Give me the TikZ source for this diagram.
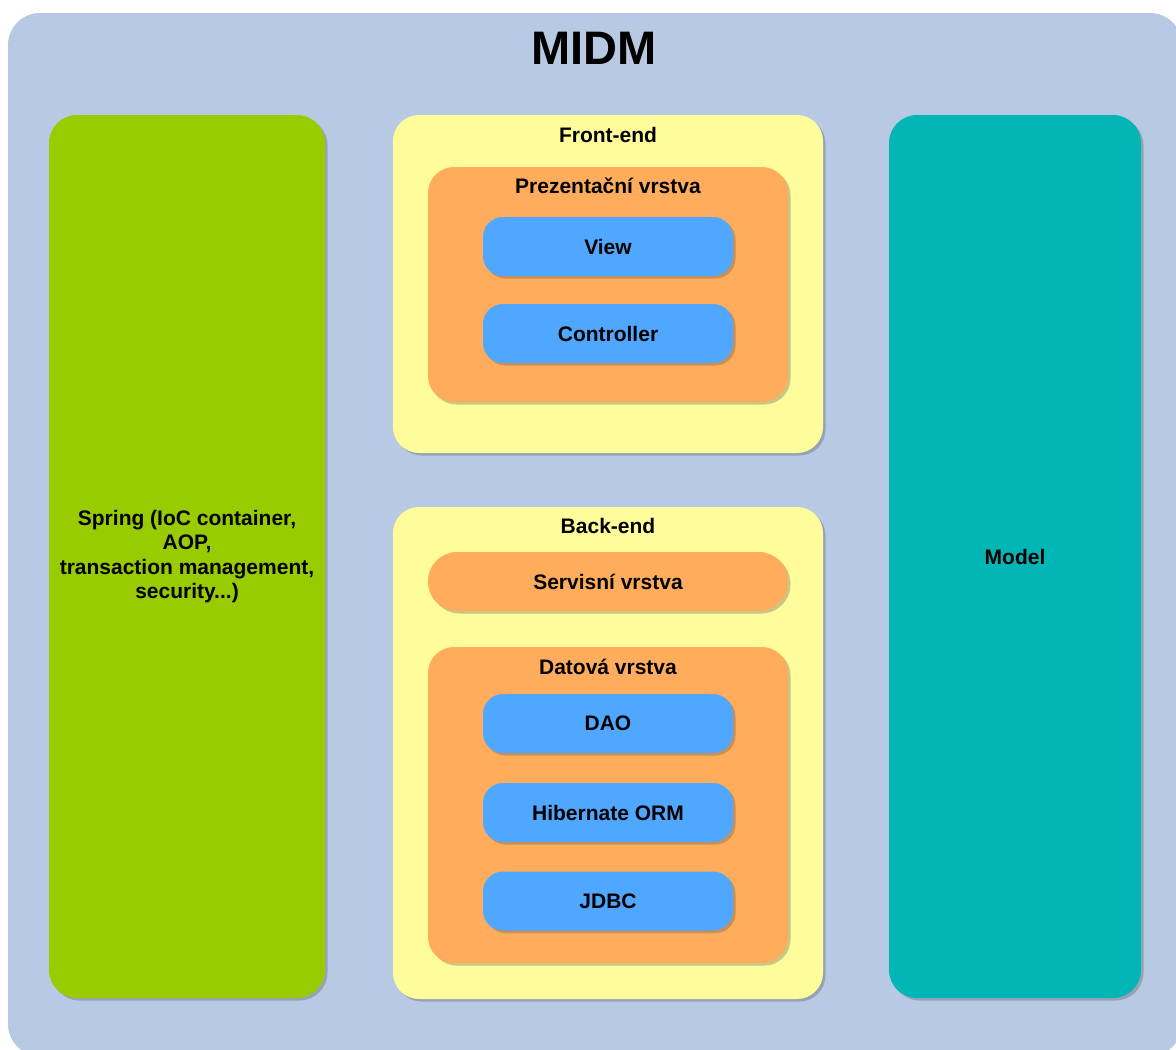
\documentclass[tikz,border=0pt]{standalone}
\usepackage{fontspec}
\setmainfont{Liberation Sans}
\usetikzlibrary{shadows}
\definecolor{bgblue}{HTML}{B8C9E3}
\definecolor{springgreen}{HTML}{99CC00}
\definecolor{modelteal}{HTML}{03B6B6}
\definecolor{paleyellow}{HTML}{FFFD9B}
\definecolor{layerorange}{HTML}{FFAD5C}
\definecolor{compblue}{HTML}{4FA7FF}
\begin{document}
\begin{tikzpicture}[x=1pt,y=-1pt,
  box/.style={rectangle, rounded corners=#1, inner sep=0pt, outer sep=0pt,
    drop shadow={shadow xshift=2.5pt, shadow yshift=-2.5pt, opacity=0.3, fill=black!70}},
  box/.default=24pt,
  lbl/.style={font=\fontsize{21}{24.5}\selectfont\bfseries, text=black, inner sep=0pt},
]
\useasboundingbox (0,0) rectangle (1176,1050);
\clip (0,0) rectangle (1176,1050);
\fill[white] (0,0) rectangle (1176,1050);
% outer container
\node[rectangle, rounded corners=32pt, fill=bgblue, minimum width=1174pt, minimum height=1043pt, inner sep=0pt] (midm) at (595,534.5) {};
\node[font=\fontsize{47}{50}\selectfont\bfseries, inner sep=0pt] (title) at (594,48) {MIDM};
% Spring
\node[box=28pt, fill=springgreen, minimum width=276pt, minimum height=883pt] (spring) at (187,556.5) {};
\node[lbl, align=center] (springtxt) at (spring.center) {Spring (IoC container,\\AOP,\\transaction management,\\security...)};
% Model
\node[box=28pt, fill=modelteal, minimum width=252pt, minimum height=883pt] (model) at (1015,556.5) {};
\node[lbl] (modeltxt) at (model.center) {Model};
% Front-end
\node[box=26pt, fill=paleyellow, minimum width=430pt, minimum height=338pt] (front) at (608,284) {};
\node[lbl] (fronttxt) at (608,135) {Front-end};
\node[box=26pt, fill=layerorange, minimum width=360pt, minimum height=235pt] (prez) at (608,284.5) {};
\node[lbl] (preztxt) at (608,186) {Prezentační vrstva};
\node[box=20pt, fill=compblue, minimum width=250pt, minimum height=59pt] (view) at (608,246.5) {};
\node[lbl] at (view.center) {View};
\node[box=20pt, fill=compblue, minimum width=250pt, minimum height=59pt] (ctrl) at (608,333.5) {};
\node[lbl] at (ctrl.center) {Controller};
% Back-end
\node[box=26pt, fill=paleyellow, minimum width=430pt, minimum height=492pt] (back) at (608,753) {};
\node[lbl] (backtxt) at (608,526) {Back-end};
\node[box=29pt, fill=layerorange, minimum width=360pt, minimum height=59pt] (serv) at (608,581.5) {};
\node[lbl] at (serv.center) {Servisní vrstva};
\node[box=26pt, fill=layerorange, minimum width=360pt, minimum height=316pt] (data) at (608,805) {};
\node[lbl] (datatxt) at (608,667) {Datová vrstva};
\node[box=20pt, fill=compblue, minimum width=250pt, minimum height=59pt] (dao) at (608,723.5) {};
\node[lbl] at (dao.center) {DAO};
\node[box=20pt, fill=compblue, minimum width=250pt, minimum height=59pt] (hib) at (608,812.5) {};
\node[lbl] at (hib.center) {Hibernate ORM};
\node[box=20pt, fill=compblue, minimum width=250pt, minimum height=59pt] (jdbc) at (608,901) {};
\node[lbl] at (jdbc.center) {JDBC};
\end{tikzpicture}
\end{document}
